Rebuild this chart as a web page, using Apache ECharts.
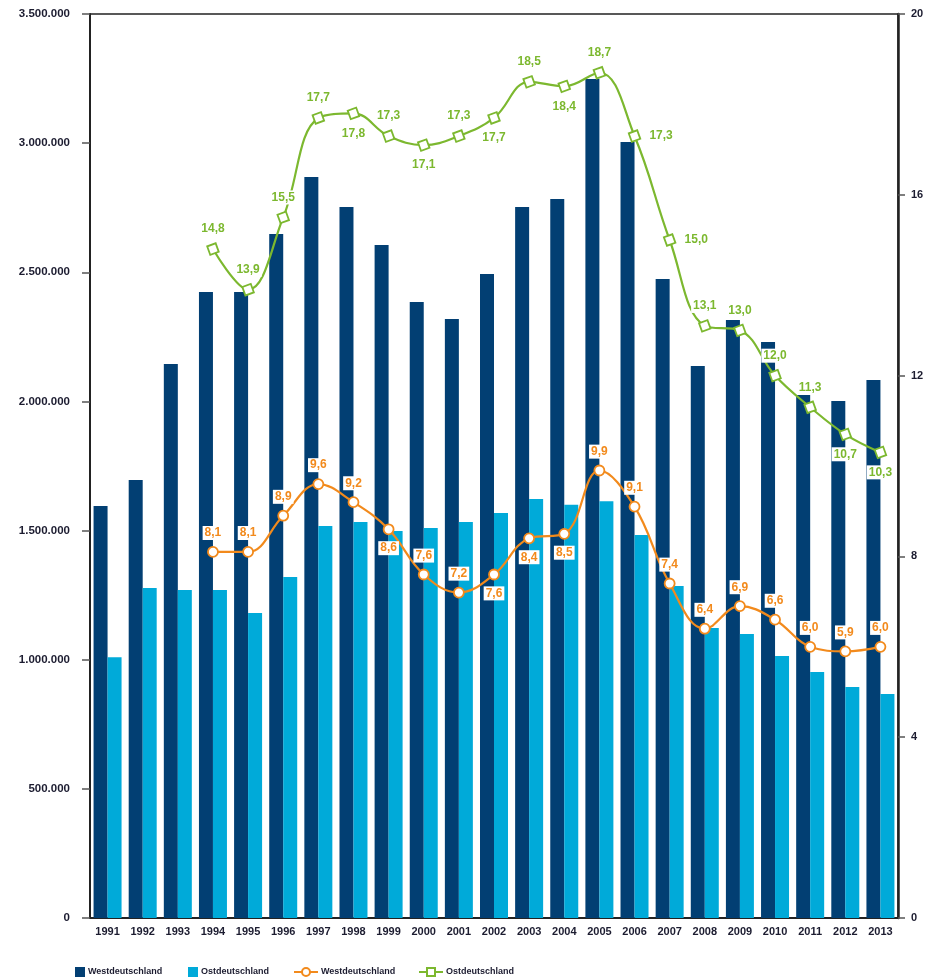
<!DOCTYPE html>
<html>
<head>
<meta charset="utf-8">
<script src="https://cdn.jsdelivr.net/npm/echarts@6/dist/echarts.min.js"></script>
<style>
  html, body { margin: 0; padding: 0; background: #fff; }
  #chart { width: 932px; height: 977px; }
</style>
</head>
<body>
<div id="chart"></div>
<script>
// Jahre
const years = ['1991','1992','1993','1994','1995','1996','1997','1998','1999','2000','2001','2002',
  '2003','2004','2005','2006','2007','2008','2009','2010','2011','2012','2013'];

// Anzahl (linke Achse)
const westCount = [1595000, 1696000, 2145000, 2424000, 2424000, 2648000, 2869000, 2753000, 2606000,
  2385000, 2319000, 2493000, 2753000, 2784000, 3248000, 3004000, 2474000, 2137000, 2315000,
  2230000, 2025000, 2002000, 2083000];
const eastCount = [1010000, 1278000, 1270000, 1270000, 1181000, 1320000, 1518000, 1533000, 1498000,
  1510000, 1533000, 1568000, 1622000, 1600000, 1614000, 1483000, 1285000, 1123000, 1100000,
  1014000, 952000, 894000, 867000];

// Quote in % (rechte Achse), ab 1994
const westRate = [null, null, null, 8.1, 8.1, 8.9, 9.6, 9.2, 8.6, 7.6, 7.2, 7.6, 8.4, 8.5, 9.9, 9.1,
  7.4, 6.4, 6.9, 6.6, 6.0, 5.9, 6.0];
const eastRate = [null, null, null, 14.8, 13.9, 15.5, 17.7, 17.8, 17.3, 17.1, 17.3, 17.7, 18.5, 18.4,
  18.7, 17.3, 15.0, 13.1, 13.0, 12.0, 11.3, 10.7, 10.3];

// Beschriftungslage je Punkt
const westLabelAt = [null, null, null, 'top', 'top', 'top', 'top', 'top', 'bottom', 'top', 'top',
  'bottom', 'bottom', 'bottom', 'top', 'top', 'top', 'top', 'top', 'top', 'top', 'top', 'top'];
const eastLabelAt = [null, null, null, 'top', 'top', 'top', 'top', 'bottom', 'top', 'bottom', 'top',
  'bottom', 'top', 'bottom', 'top', 'right', 'right', 'top', 'top', 'top', 'top', 'bottom', 'bottom'];

const legendNames = { wBar: 'Westdeutschland', eBar: 'Ostdeutschland', wLine: 'Westdeutschland', eLine: 'Ostdeutschland' };

const NAVY = '#023f73';
const CYAN = '#00aad9';
const ORANGE = '#f28a1c';
const GREEN = '#7cb82f';
const TXT = '#1c1c30';
const FONT = '"Liberation Sans Narrow", "Liberation Sans", Arial, sans-serif';

const fmtThousands = v => String(v).replace(/\B(?=(\d{3})+(?!\d))/g, '.');
const fmtRate = v => v.toFixed(1).replace('.', ',');

function lineData(values, places) {
  return values.map((v, i) => v == null ? null : {
    value: v,
    label: { position: places[i] }
  });
}

const rateLabel = color => ({
  show: true,
  color: color,
  fontFamily: FONT,
  fontWeight: 'bold',
  fontSize: 12,
  backgroundColor: '#fff',
  padding: [1, 2],
  distance: 6,
  formatter: p => fmtRate(p.value)
});

// one legend block per entry, so each sits at its own spot
function legendEntry(name, left, isLine) {
  return {
    data: [name],
    left: left, top: 962,
    itemWidth: isLine ? 24 : 10, itemHeight: 10,
    icon: isLine ? undefined : 'rect',
    symbolRotate: 0,
    formatter: n => legendNames[n],
    textStyle: { fontFamily: FONT, fontWeight: 'bold', fontSize: 9, color: TXT, padding: [0, 0, 0, -2] }
  };
}

const chart = echarts.init(document.getElementById('chart'), null, { renderer: 'canvas' });
chart.setOption({
  animation: false,
  textStyle: { fontFamily: FONT },
  grid: {
    left: 90, right: 34, top: 14, bottom: 59,
    show: true, borderColor: '#222', borderWidth: 1.5, backgroundColor: 'transparent'
  },
  legend: [
    legendEntry('wBar', 70, false),
    legendEntry('eBar', 183, false),
    legendEntry('wLine', 288, true),
    legendEntry('eLine', 413, true)
  ],
  xAxis: {
    type: 'category',
    data: years,
    axisLine: { lineStyle: { color: '#222', width: 2 } },
    axisTick: { show: false },
    axisLabel: { color: TXT, fontWeight: 'bold', fontSize: 11, margin: 8, interval: 0, fontFamily: FONT }
  },
  yAxis: [
    {
      type: 'value', min: 0, max: 3500000, interval: 500000,
      axisLine: { show: true, lineStyle: { color: '#222', width: 2 } },
      axisTick: { show: true, length: 8, lineStyle: { color: '#555', width: 1.5 } },
      splitLine: { show: false },
      axisLabel: { color: TXT, fontWeight: 'bold', fontSize: 11.5, margin: 20, formatter: fmtThousands, fontFamily: FONT }
    },
    {
      type: 'value', min: 0, max: 20, interval: 4, position: 'right',
      axisLine: { show: true, lineStyle: { color: '#222', width: 2.5 } },
      axisTick: { show: true, length: 7, lineStyle: { color: '#555', width: 1.5 } },
      splitLine: { show: false },
      axisLabel: { color: TXT, fontWeight: 'bold', fontSize: 11, margin: 13, fontFamily: FONT }
    }
  ],
  series: [
    {
      name: 'wBar', type: 'bar', data: westCount, barWidth: 14, barGap: '0%',
      itemStyle: { color: NAVY }
    },
    {
      name: 'eBar', type: 'bar', data: eastCount, barWidth: 14,
      itemStyle: { color: CYAN }
    },
    {
      name: 'wLine', type: 'line', yAxisIndex: 1, smooth: 0.4,
      data: lineData(westRate, westLabelAt),
      symbol: 'circle', symbolSize: 10,
      lineStyle: { color: ORANGE, width: 2.2 },
      itemStyle: { color: '#fff', borderColor: ORANGE, borderWidth: 1.8 },
      label: rateLabel(ORANGE),
      z: 5
    },
    {
      name: 'eLine', type: 'line', yAxisIndex: 1, smooth: 0.4,
      data: lineData(eastRate, eastLabelAt),
      symbol: 'rect', symbolSize: 9, symbolRotate: 20,
      lineStyle: { color: GREEN, width: 2.2 },
      itemStyle: { color: '#fff', borderColor: GREEN, borderWidth: 1.8 },
      label: rateLabel(GREEN),
      z: 5
    }
  ]
});
</script>
</body>
</html>
